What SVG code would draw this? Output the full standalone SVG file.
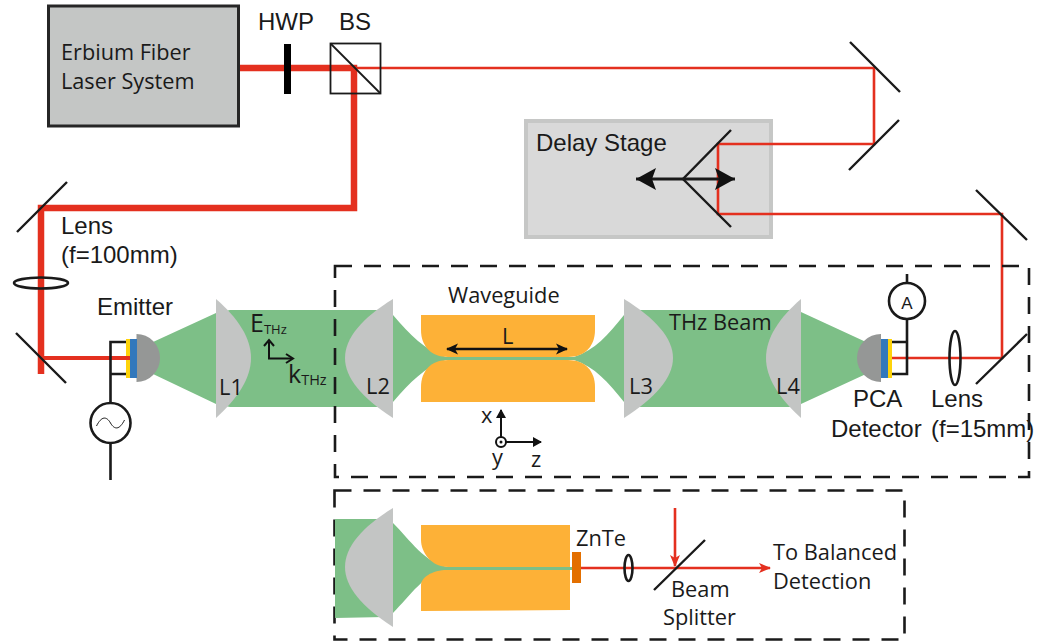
<svg xmlns="http://www.w3.org/2000/svg" width="1045" height="643" viewBox="0 0 1045 643">
<style>
text{font-family:"Liberation Sans",Arial,sans-serif;font-size:24px;fill:#1a1a1a}
.os{font-family:"Open Sans","Noto Sans",sans-serif;font-size:21.800px}
.la{font-family:"Open Sans","Noto Sans",sans-serif;font-size:21.700px}
.k{fill:none;stroke:#1a1a1a;stroke-width:2.6}
.m{fill:none;stroke:#1a1a1a;stroke-width:2.4}
.bsb{fill:none;stroke:#1a1a1a;stroke-width:1.800}
.rt{fill:none;stroke:#e4301f;stroke-width:6.500}
.rm{fill:none;stroke:#e4301f;stroke-width:4}
.rn{fill:none;stroke:#e4301f;stroke-width:2.600}
.dash{fill:none;stroke:#1a1a1a;stroke-width:2.600;stroke-dasharray:17 12}
.gr{fill:#7dbf87}
.lens{fill:#c3c5c4}
.wg{fill:#fdb137}
.dome{fill:#959796}
.blue{fill:#3278bc}
.yel{fill:#fed30a}
</style>
<defs>
<marker id="ah" markerUnits="userSpaceOnUse" markerWidth="14" markerHeight="12" refX="11" refY="6" orient="auto-start-reverse"><path d="M0,0.500 L12,6 L0,11.500 L3,6Z" fill="#111"/></marker>
<marker id="big" markerUnits="userSpaceOnUse" markerWidth="22" markerHeight="24" refX="20" refY="12" orient="auto"><path d="M0,1 L20,12 L0,23 L4,12Z" fill="#111"/></marker>
<marker id="ar" markerUnits="userSpaceOnUse" markerWidth="14" markerHeight="12" refX="11" refY="6" orient="auto"><path d="M0,1 L12,6 L0,11 L3,6Z" fill="#e4301f"/></marker>
<path id="sine" d="M-14,3 C-9,-7 -4,-7 0,0 C4,7 9,7 14,-3" fill="none" stroke="#1a1a1a" stroke-width="1"/>
</defs>

<g id="delay-stage"><rect x="526" y="121" width="245" height="116" fill="#d9d9d9" stroke="#c6c7c6" stroke-width="4"/><text x="536" y="151">Delay Stage</text></g>

<g id="connectors">
<path class="rt" d="M238,68H354V208H41V374"/>
<path class="rn" d="M354,68H874V144H718V214H1002V358H892"/>
<path class="rm" d="M41,358H130"/>
<path class="rn" d="M581,568H770" marker-end="url(#ar)"/>
<path class="rn" d="M675,508V566" marker-end="url(#ar)"/>
<path d="M683,179H636" stroke="#1a1a1a" stroke-width="3" marker-end="url(#big)" fill="none"/>
<path d="M683,179H735" stroke="#1a1a1a" stroke-width="3" marker-end="url(#big)" fill="none"/>
</g>

<g id="laser"><rect x="48.500" y="6" width="190" height="120" fill="#c4c6c5" stroke="#262626" stroke-width="3"/><text x="61" y="60" class="la">Erbium Fiber</text><text x="61" y="89" class="la">Laser System</text></g>
<g id="hwp"><rect x="284" y="44" width="7" height="50" fill="#000"/><text x="258" y="30">HWP</text></g>
<g id="bs"><rect x="330.500" y="43.500" width="50" height="50" class="bsb"/><path class="bsb" d="M330.500,43.500L380.500,93.500"/><text x="339" y="30">BS</text></g>

<g id="mirrors">
<path class="m" d="M850,42L900,92M849,170L899,120M731,130L683,179L731,227M976,190L1027,240M976,384L1027,334M17,232L67,182M16,333L66,383M654,590L705,540"/>
</g>

<g id="lens-100"><ellipse cx="41" cy="283" rx="27" ry="5.500" class="k"/><text x="61" y="234">Lens</text><text x="61" y="263">(f=100mm)</text></g>

<g id="beam-main">
<path class="gr" d="M153,342L216,313L230,310H380L393,315C410,335 425,350 446,357H574C595,350 608,335 624,315L640,310H790L801,312L866,342V374L801,404L790,407H640L624,402C608,382 595,367 574,360H446C425,367 410,382 393,402L380,407H230L216,404L153,374Z"/>
</g>

<g id="waveguide"><path class="wg" d="M421,315H595V330C595,346 585,357 568,357H448C431,357 421,346 421,330Z"/><path class="wg" d="M421,402H595V387C595,371 585,360 568,360H448C431,360 421,371 421,387Z"/><text x="448" y="303" class="os">Waveguide</text><text x="502" y="344" class="os">L</text><path d="M447,349H567" stroke="#111" stroke-width="2.400" marker-start="url(#ah)" marker-end="url(#ah)" fill="none"/></g>

<g id="L1"><path class="lens" d="M216,299C238,318 251,338 251,358C251,378 238,398 216,418Z"/><text x="219" y="395" class="os">L1</text></g>
<g id="L2"><path class="lens" d="M393,299C362,318 345,338 345,358C345,378 362,398 393,418Z"/><text x="366" y="394" class="os">L2</text></g>
<g id="L3"><path class="lens" d="M624,299C655,318 673,338 673,358C673,378 655,398 624,418Z"/><text x="629" y="394" class="os">L3</text></g>
<g id="L4"><path class="lens" d="M801,299C779,318 766,338 766,358C766,378 779,398 801,418Z"/><text x="776" y="394" class="os">L4</text></g>

<g id="emitter">
<path class="dome" d="M136.500,334A23.500,24 0 0 1 136.500,382Z"/><rect x="130" y="339" width="7" height="39" class="blue"/><rect x="126" y="339" width="4" height="39" class="yel"/>
<path class="rm" d="M110,358H130"/>
<path class="k" d="M126,342H110.500V403M110.500,374H126M110.500,443V480"/>
<circle cx="110.500" cy="423" r="20" class="k"/><use href="#sine" x="110.500" y="423"/>
<text x="97" y="315">Emitter</text>
</g>

<g id="axes-thz"><path d="M269,342V358.500H292" stroke="#111" stroke-width="2" fill="none"/><path d="M264,346L269,340L274,346M286,354L293,358.500L286,363" stroke="#111" stroke-width="2" fill="none"/><text x="250" y="332" class="os" style="font-size:25px">E<tspan dy="2" style="font-size:13px">THz</tspan></text><text x="288" y="383" class="os" style="font-size:25px">k<tspan dy="2" style="font-size:14.500px">THz</tspan></text></g>
<g id="axes-xyz"><circle cx="501" cy="442" r="5" fill="#fff" stroke="#111" stroke-width="2"/><circle cx="501" cy="442" r="1.500" fill="#111"/><path d="M501,437V410M506,442H541" stroke="#111" stroke-width="2" fill="none"/><path d="M496,418L501,409L506,418ZM533,437L542,442L533,447Z" fill="#111"/><text x="481" y="423" class="os">x</text><text x="492" y="465" class="os">y</text><text x="531" y="467" class="os">z</text></g>
<text x="669" y="330" class="os">THz Beam</text>

<g id="detector">
<path class="dome" d="M881,334A24,24 0 0 0 881,382Z"/><rect x="881" y="339" width="7" height="39" class="blue"/><rect x="888" y="339" width="4" height="39" class="yel"/>
<path class="k" d="M892,342H907V374H892M907,342V320M907,283V274"/>
<circle cx="907" cy="301" r="18" class="k"/><text x="907" y="309" text-anchor="middle" style="font-size:17px">A</text>
<text x="853" y="407">PCA</text><text x="831" y="437">Detector</text>
</g>
<g id="lens-15"><ellipse cx="955" cy="358" rx="5.500" ry="27" class="k"/><text x="931" y="407">Lens</text><text x="931" y="437">(f=15mm)</text></g>

<rect x="335" y="266" width="694" height="211" class="dash"/>
<rect x="334.500" y="490.500" width="570" height="149" class="dash"/>

<g id="eo-detail">
<path class="gr" d="M335,519H385L393,523C410,540 425,563 448,567H572V570H448C425,572 410,596 393,613L385,617L335,618Z"/>
<path class="lens" d="M393,508C362,527 345,547 345,567C345,587 362,607 393,627Z"/>
<path class="wg" d="M421,525H570V567H448C431,567 421,552 421,540Z"/><path class="wg" d="M421,611V585C421,578 431,570 448,570H570V610Z"/>
<rect x="572" y="552" width="9" height="31" fill="#e36f00"/>
<ellipse cx="628.500" cy="568" rx="4" ry="13" class="k"/>
<text x="576" y="546" class="os">ZnTe</text>
<text x="671" y="597" class="os">Beam</text><text x="663" y="625" class="os">Splitter</text>
<text x="773" y="560" class="os">To Balanced</text><text x="773" y="589" class="os">Detection</text>
</g>
</svg>
